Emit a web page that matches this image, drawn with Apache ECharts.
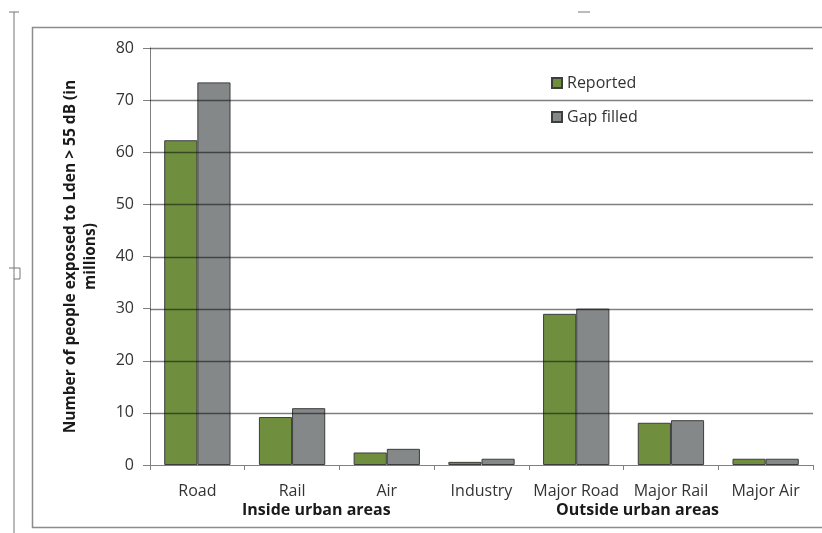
<!DOCTYPE html>
<html>
<head>
<meta charset="utf-8">
<script src="https://cdn.jsdelivr.net/npm/echarts@6/dist/echarts.min.js"></script>
<style>
  html, body { margin: 0; padding: 0; background: #fff; }
  #chart { width: 822px; height: 533px; }
</style>
</head>
<body>
<div id="chart"></div>
<script>
  // categories and values (millions of people, Lden > 55 dB)
  var categories = ['Road', 'Rail', 'Air', 'Industry', 'Major Road', 'Major Rail', 'Major Air'];
  var reported = [62.3, 9.2, 2.4, 0.6, 29.0, 8.1, 1.2];
  var gapFilled = [73.4, 10.9, 3.1, 1.2, 30.0, 8.6, 1.2];
  var yTicks = [0, 10, 20, 30, 40, 50, 60, 70, 80];

  var txtFont = 'Open Sans';
  var myChart = echarts.init(document.getElementById('chart'), null, {renderer: 'canvas'});

  // gridlines sit on top of the bars in the original -> custom series above the bars
  function renderGridLine(params, api) {
    var cs = params.coordSys;
    var y = Math.round(api.coord([0, api.value(0)])[1]) + 0.5;
    return {
      type: 'line',
      shape: { x1: cs.x, y1: y, x2: cs.x + cs.width, y2: y },
      style: { stroke: 'rgba(0,0,0,0.5)', lineWidth: 1.3 }
    };
  }

  var option = {
    animation: false,
    backgroundColor: '#fff',
    grid: {
      left: 150,
      right: 9,
      top: 48,
      bottom: 68
    },
    legend: {
      orient: 'vertical',
      left: 546,
      top: 70,
      itemWidth: 10,
      itemHeight: 10,
      itemGap: 18,
      icon: 'rect',
      textStyle: { fontFamily: txtFont, fontSize: 16, color: '#333' },
      data: ['Reported', 'Gap filled']
    },
    xAxis: {
      type: 'category',
      data: categories,
      axisLine: { lineStyle: { color: '#808080', width: 1 } },
      axisTick: { show: true, length: 5, lineStyle: { color: '#808080' } },
      axisLabel: { fontFamily: txtFont, fontSize: 16, color: '#333', margin: 18, interval: 0 }
    },
    yAxis: {
      type: 'value',
      min: yTicks[0],
      max: yTicks[yTicks.length - 1],
      interval: 10,
      name: 'Number of people exposed to Lden > 55 dB (in\nmillions)',
      nameLocation: 'middle',
      nameGap: 49,
      nameTextStyle: { fontFamily: txtFont, fontSize: 15.5, fontWeight: 'bold', color: '#1a1a1a', lineHeight: 20 },
      axisLine: { show: true, lineStyle: { color: '#808080' } },
      axisTick: { show: true, length: 7, lineStyle: { color: '#808080' } },
      axisLabel: { fontFamily: txtFont, fontSize: 16, color: '#333', margin: 16 },
      splitLine: { show: false }
    },
    series: [
      {
        name: 'Reported',
        type: 'bar',
        data: reported,
        barGap: 0,
        barCategoryGap: '30%',
        itemStyle: { color: '#6f8f3f', borderColor: '#3d3d3d', borderWidth: 1 }
      },
      {
        name: 'Gap filled',
        type: 'bar',
        data: gapFilled,
        barGap: 0,
        barCategoryGap: '30%',
        itemStyle: { color: '#858888', borderColor: '#3d3d3d', borderWidth: 1 }
      },
      {
        name: 'gridlines',
        type: 'custom',
        z: 10,
        silent: true,
        renderItem: renderGridLine,
        encode: { y: 0 },
        data: yTicks.slice(1).map(function (v) { return [v]; })
      }
    ],
    graphic: [
      // frame around the chart
      { type: 'rect', shape: { x: 32.5, y: 27.5, width: 800, height: 500 },
        style: { fill: null, stroke: '#8c8c8c', lineWidth: 1.5 }, silent: true },
      // group labels
      { type: 'text', left: 242, top: 502,
        style: { text: 'Inside urban areas', fontFamily: txtFont, fontSize: 16, fontWeight: 'bold', fill: '#1a1a1a' } },
      { type: 'text', left: 556, top: 502,
        style: { text: 'Outside urban areas', fontFamily: txtFont, fontSize: 16, fontWeight: 'bold', fill: '#1a1a1a' } },
      // page marks from the screenshot
      { type: 'polyline', shape: { points: [[9, 12], [19, 12]] }, style: { stroke: '#777', lineWidth: 1 } },
      { type: 'polyline', shape: { points: [[14, 12], [14, 533]] }, style: { stroke: '#777', lineWidth: 1 } },
      { type: 'polyline', shape: { points: [[9, 268], [20, 268], [20, 279], [14, 279]] }, style: { fill: null, stroke: '#777', lineWidth: 1 } },
      { type: 'polyline', shape: { points: [[578, 12], [590, 12]] }, style: { stroke: '#777', lineWidth: 1 } }
    ]
  };

  option && myChart.setOption(option, true);
</script>
</body>
</html>
